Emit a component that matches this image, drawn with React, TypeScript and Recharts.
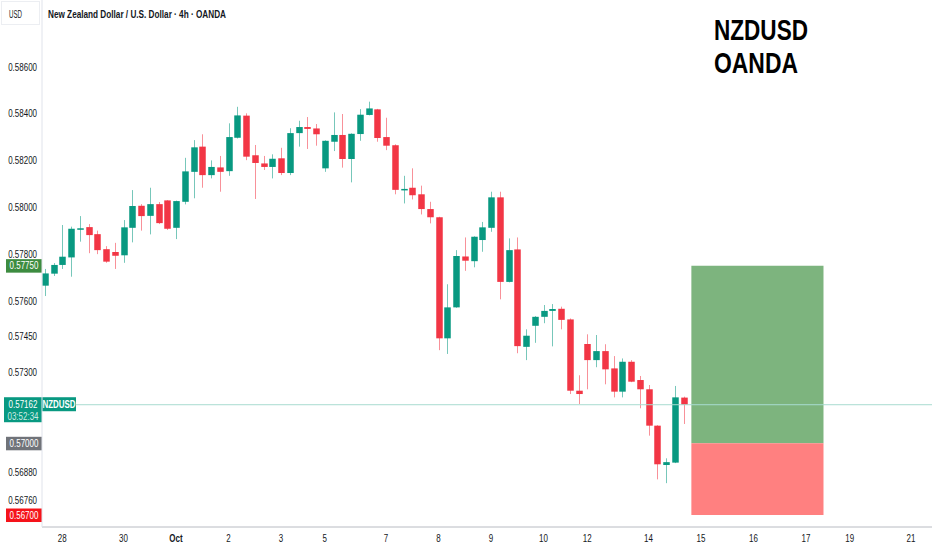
import React from "react";
import { ComposedChart, Bar, XAxis, YAxis, ReferenceLine, ReferenceArea } from "recharts";

// 4h NZDUSD candles
const opens = [
  0.57665, 0.57716, 0.57753, 0.57785, 0.57905, 0.57914, 0.57884, 0.5782, 0.57808, 0.57794,
  0.57911, 0.58005, 0.57962, 0.58012, 0.58028, 0.57911, 0.58022, 0.5815, 0.58258, 0.58136,
  0.58169, 0.58153, 0.58296, 0.58391, 0.58221, 0.58186, 0.58171, 0.58208, 0.58145, 0.58316,
  0.58342, 0.58336, 0.58165, 0.58279, 0.58308, 0.58205, 0.58312, 0.58394, 0.58418, 0.58299,
  0.58264, 0.58073, 0.58082, 0.58054, 0.57991, 0.57956, 0.57442, 0.57573, 0.57789, 0.57769,
  0.57859, 0.57911, 0.58041, 0.57681, 0.57819, 0.57406, 0.57495, 0.57533, 0.57558, 0.57567,
  0.57522, 0.57221, 0.57418, 0.5735, 0.57388, 0.57315, 0.57217, 0.57343, 0.57266, 0.57227,
  0.57074, 0.56909, 0.56919, 0.57192,
];
const highs = [
  0.57736, 0.57761, 0.57923, 0.57916, 0.57961, 0.57927, 0.57899, 0.57833, 0.57847, 0.57944,
  0.58072, 0.58012, 0.58082, 0.58021, 0.58029, 0.58027, 0.5821, 0.58286, 0.58311, 0.58199,
  0.58218, 0.58358, 0.58429, 0.58401, 0.58265, 0.58218, 0.58225, 0.58253, 0.58337, 0.58369,
  0.58385, 0.58355, 0.58285, 0.58405, 0.58398, 0.58315, 0.58419, 0.58451, 0.5842, 0.58382,
  0.58268, 0.58133, 0.58165, 0.58091, 0.58022, 0.57958, 0.57671, 0.57816, 0.5787, 0.57875,
  0.57936, 0.58065, 0.58065, 0.57866, 0.5787, 0.5748, 0.57536, 0.57583, 0.57587, 0.57576,
  0.57526, 0.57286, 0.57459, 0.57456, 0.57417, 0.57367, 0.57357, 0.5735, 0.57283, 0.57245,
  0.57076, 0.56937, 0.57241, 0.57196,
];
const lows = [
  0.57621, 0.57706, 0.57736, 0.57703, 0.57852, 0.57803, 0.57799, 0.57762, 0.57736, 0.57762,
  0.57849, 0.57899, 0.57883, 0.57927, 0.57902, 0.57863, 0.58011, 0.58037, 0.58082, 0.58122,
  0.58065, 0.58133, 0.58293, 0.582, 0.58034, 0.58158, 0.58122, 0.58136, 0.58136, 0.58258,
  0.58248, 0.58262, 0.5815, 0.58239, 0.58168, 0.58105, 0.58283, 0.58392, 0.58279, 0.58243,
  0.58054, 0.58015, 0.58032, 0.57968, 0.5793, 0.57392, 0.57376, 0.57571, 0.57728, 0.57743,
  0.57809, 0.57894, 0.57607, 0.57679, 0.57379, 0.5735, 0.57423, 0.57506, 0.57408, 0.5748,
  0.57207, 0.57165, 0.57227, 0.5732, 0.57248, 0.57193, 0.57193, 0.57257, 0.57147, 0.57032,
  0.56849, 0.56833, 0.56917, 0.57081,
];
const closes = [
  0.57717, 0.57753, 0.57788, 0.57907, 0.57909, 0.5788, 0.57816, 0.57767, 0.57792, 0.57913,
  0.58004, 0.57961, 0.58012, 0.57931, 0.57907, 0.58025, 0.58152, 0.58255, 0.58136, 0.58171,
  0.5815, 0.58299, 0.58392, 0.58215, 0.58188, 0.58171, 0.58206, 0.58145, 0.58316, 0.58342,
  0.58334, 0.58311, 0.58283, 0.58308, 0.58205, 0.58313, 0.58395, 0.58422, 0.58295, 0.58262,
  0.58073, 0.58077, 0.5805, 0.57991, 0.57956, 0.57442, 0.57573, 0.57791, 0.57771, 0.57873,
  0.57913, 0.58041, 0.57681, 0.57816, 0.57409, 0.57453, 0.57533, 0.57558, 0.57566, 0.5752,
  0.57221, 0.57207, 0.5735, 0.57388, 0.57311, 0.57217, 0.57343, 0.57259, 0.57227, 0.57074,
  0.56912, 0.56921, 0.57193, 0.57162,
];

const dayTicks = [2, 9, 15, 21, 27, 32, 39, 45, 51, 57, 62, 69, 75, 81, 87, 92, 99];
const dayLabels = ["28", "30", "Oct", "2", "3", "5", "7", "8", "9", "10", "12", "14", "15", "16", "17", "19", "21"];
const priceTicks = [0.586, 0.584, 0.582, 0.58, 0.578, 0.576, 0.5745, 0.573, 0.5688, 0.5676];

const lastPrice = 0.57162;
const countdown = "03:52:34";
const targetPrice = 0.5775;
const entryPrice = 0.57;
const stopPrice = 0.567;
const positionStart = 73.9;
const positionEnd = 89;

const GREEN = "#089981";
const RED = "#F23645";
const FONT = "'Liberation Sans', Arial, sans-serif";
const SQUEEZE = 0.76; // the screenshot's text is horizontally condensed

const data = opens.map((o, i) => ({
  i,
  open: o,
  high: highs[i],
  low: lows[i],
  close: closes[i],
  range: [lows[i], highs[i]],
}));

function Candle(props: any) {
  const { x, y, width, height, payload } = props;
  if (!payload) return null;
  const top = Math.min(y, y + height);
  const bottom = Math.max(y, y + height);
  const lh = Math.log(payload.high);
  const ll = Math.log(payload.low);
  // log price scale: pixel is linear in ln(price)
  const toY = (v: number) => (lh === ll ? top : top + ((lh - Math.log(v)) / (lh - ll)) * (bottom - top));
  const up = payload.close >= payload.open;
  const color = up ? GREEN : RED;
  const cx = Math.round(x + width / 2) + 0.5;
  const bTop = toY(Math.max(payload.open, payload.close));
  const bBot = toY(Math.min(payload.open, payload.close));
  return (
    <g>
      <line x1={cx} x2={cx} y1={top} y2={bottom} stroke={color} strokeOpacity={0.55} strokeWidth={1} />
      <rect x={cx - 3.25} y={bTop} width={6.5} height={Math.max(1.5, bBot - bTop)} fill={color} />
    </g>
  );
}

function Narrow(props: any) {
  const { x, y, anchor = "middle", size = 10.5, fill = "#131722", weight = "normal", children } = props;
  return (
    <text transform={`translate(${x},${y}) scale(${SQUEEZE},1)`} textAnchor={anchor} dy="0.35em"
      fontSize={size} fontFamily={FONT} fontWeight={weight} fill={fill}>
      {children}
    </text>
  );
}

function PriceTag(props: any) {
  const { viewBox, text, bg } = props;
  if (!viewBox) return null;
  const cy = viewBox.y;
  const x0 = viewBox.x;
  return (
    <g>
      <rect x={x0 - 36} y={cy - 6.5} width={36} height={13.5} fill={bg} />
      <Narrow x={x0 - 18} y={cy} fill="#fff">{text}</Narrow>
    </g>
  );
}

function LastTag(props: any) {
  const { viewBox } = props;
  if (!viewBox) return null;
  const cy = viewBox.y;
  const x0 = viewBox.x;
  return (
    <g>
      <rect x={x0 - 38} y={cy - 7.5} width={38} height={25} fill={GREEN} />
      <rect x={x0} y={cy - 7.5} width={34} height={14} fill={GREEN} />
      <Narrow x={x0 - 19} y={cy} fill="#fff">{lastPrice.toFixed(5)}</Narrow>
      <Narrow x={x0 - 19} y={cy + 11.5} fill="#cdebe4">{countdown}</Narrow>
      <Narrow x={x0 + 17} y={cy} fill="#fff" weight="bold">NZDUSD</Narrow>
    </g>
  );
}

function PriceTick(props: any) {
  const { y, payload } = props;
  return <Narrow x={37} y={y} anchor="end">{payload.value.toFixed(5)}</Narrow>;
}

function DayTick(props: any) {
  const { x, y, payload } = props;
  const label = dayLabels[dayTicks.indexOf(payload.value)];
  return (
    <Narrow x={x} y={y + 5} weight={label === "Oct" ? "bold" : "normal"}>
      {label}
    </Narrow>
  );
}

export default function App() {
  return (
    <div style={{ position: "absolute", left: 0, top: 0, width: 932, height: 550, background: "#fff" }}>
      <ComposedChart width={932} height={550} data={data} margin={{ top: 0, right: 0, bottom: 0, left: 0 }}>
        <XAxis
          dataKey="i"
          type="number"
          domain={[-0.31, 101.4]}
          allowDataOverflow
          ticks={dayTicks}
          tick={<DayTick />}
          tickLine={false}
          tickSize={0}
          tickMargin={6}
          height={23}
          axisLine={{ stroke: "#b8bbc2" }}
          interval={0}
        />
        <YAxis
          orientation="left"
          width={42}
          scale="log"
          type="number"
          domain={[0.5665, 0.5889]}
          allowDataOverflow
          ticks={priceTicks}
          interval={0}
          tick={<PriceTick />}
          tickLine={false}
          axisLine={{ stroke: "#e0e3eb" }}
        />
        <ReferenceArea x1={positionStart} x2={positionEnd} y1={entryPrice} y2={targetPrice}
          fill="#7db47e" fillOpacity={1} stroke="none" />
        <ReferenceArea x1={positionStart} x2={positionEnd} y1={stopPrice} y2={entryPrice}
          fill="#ff8080" fillOpacity={1} stroke="none" />
        <ReferenceLine y={lastPrice} stroke="#a8dcd0" strokeWidth={1} label={<LastTag />} />
        <Bar dataKey="range" barSize={7} shape={<Candle />} isAnimationActive={false} />
        <ReferenceLine y={targetPrice} stroke="none" strokeOpacity={0} label={<PriceTag text={targetPrice.toFixed(5)} bg="#3d8c40" />} />
        <ReferenceLine y={entryPrice} stroke="none" strokeOpacity={0} label={<PriceTag text={entryPrice.toFixed(5)} bg="#707379" />} />
        <ReferenceLine y={stopPrice} stroke="none" strokeOpacity={0} label={<PriceTag text={stopPrice.toFixed(5)} bg="#f5131a" />} />
      </ComposedChart>

      <svg width={932} height={80} style={{ position: "absolute", left: 0, top: 0, pointerEvents: "none" }}>
        <rect x={1.5} y={1.5} width={38} height={23} fill="none" stroke="#eceef2" />
        <text x={9} y={17.5} fontSize={10} fontFamily={FONT} fill="#131722" textLength={13} lengthAdjust="spacingAndGlyphs">
          USD
        </text>
        <text x={48} y={17.5} fontSize={10} fontWeight="bold" fontFamily={FONT} fill="#131722"
          textLength={178} lengthAdjust="spacingAndGlyphs">
          New Zealand Dollar / U.S. Dollar · 4h · OANDA
        </text>
        <text x={714} y={40} fontSize={30} fontWeight="bold" fontFamily={FONT} fill="#000"
          textLength={94} lengthAdjust="spacingAndGlyphs">
          NZDUSD
        </text>
        <text x={714} y={73} fontSize={30} fontWeight="bold" fontFamily={FONT} fill="#000"
          textLength={84} lengthAdjust="spacingAndGlyphs">
          OANDA
        </text>
      </svg>
    </div>
  );
}
